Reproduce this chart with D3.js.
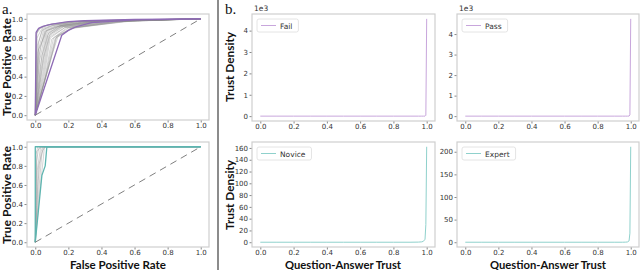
<!DOCTYPE html>
<html>
<head>
<meta charset="utf-8">
<script src="https://cdn.jsdelivr.net/npm/d3@7"></script>
<style>
  body { margin: 0; background: #fff; }
  svg { display: block; }
  .tick text { font-family: "DejaVu Sans", sans-serif; font-size: 7px; fill: #333; }
  .tick line { stroke: #888; }
</style>
</head>
<body>
<svg id="chart" width="640" height="270"></svg>
<script>
// ---- data ----

// ROC curves, pass/fail model: [fpr, tpr] points
const rocPurpleLow = [[0, 0], [0.16, 0.83], [0.2, 0.88], [0.25, 0.92], [0.34, 0.96], [0.6, 0.99], [1, 1]];
const rocPurpleHigh = [[0, 0], [0.005, 0.86], [0.02, 0.9], [0.05, 0.925], [0.1, 0.945], [0.2, 0.97], [0.3, 0.98], [0.6, 0.995], [1, 1]];
const rocFailPassGray = [
    [[0, 0], [0.006, 0.85], [0.03, 0.91], [0.1, 0.945], [0.3, 0.98], [1, 1]],
    [[0, 0], [0.01, 0.8], [0.04, 0.9], [0.12, 0.94], [0.3, 0.98], [1, 1]],
    [[0, 0], [0.012, 0.72], [0.045, 0.89], [0.13, 0.94], [0.35, 0.98], [1, 1]],
    [[0, 0], [0.015, 0.65], [0.05, 0.88], [0.14, 0.935], [0.35, 0.98], [1, 1]],
    [[0, 0], [0.02, 0.6], [0.055, 0.87], [0.15, 0.93], [0.4, 0.98], [1, 1]],
    [[0, 0], [0.025, 0.55], [0.06, 0.86], [0.15, 0.93], [0.4, 0.98], [1, 1]],
    [[0, 0], [0.03, 0.5], [0.065, 0.85], [0.16, 0.925], [0.4, 0.975], [1, 1]],
    [[0, 0], [0.035, 0.47], [0.07, 0.84], [0.16, 0.92], [0.42, 0.975], [1, 1]],
    [[0, 0], [0.04, 0.45], [0.075, 0.83], [0.17, 0.92], [0.45, 0.975], [1, 1]],
    [[0, 0], [0.045, 0.43], [0.08, 0.82], [0.17, 0.915], [0.45, 0.975], [1, 1]],
    [[0, 0], [0.05, 0.42], [0.085, 0.81], [0.18, 0.91], [0.45, 0.97], [1, 1]],
    [[0, 0], [0.055, 0.41], [0.09, 0.8], [0.18, 0.91], [0.5, 0.975], [1, 1]],
    [[0, 0], [0.06, 0.4], [0.1, 0.79], [0.19, 0.905], [0.5, 0.975], [1, 1]],
    [[0, 0], [0.065, 0.42], [0.11, 0.8], [0.2, 0.905], [0.5, 0.975], [1, 1]],
    [[0, 0], [0.07, 0.45], [0.12, 0.8], [0.21, 0.9], [0.5, 0.97], [1, 1]],
    [[0, 0], [0.08, 0.5], [0.125, 0.8], [0.22, 0.9], [0.55, 0.975], [1, 1]],
    [[0, 0], [0.02, 0.75], [0.04, 0.88], [0.1, 0.93], [0.25, 0.97], [1, 1]],
    [[0, 0], [0.03, 0.7], [0.06, 0.87], [0.12, 0.92], [0.3, 0.97], [1, 1]],
    [[0, 0], [0.01, 0.85], [0.03, 0.9], [0.08, 0.94], [0.2, 0.97], [1, 1]],
    [[0, 0], [0.005, 0.83], [0.02, 0.9], [0.07, 0.935], [0.25, 0.975], [1, 1]],
    [[0, 0], [0.04, 0.62], [0.08, 0.85], [0.14, 0.92], [0.35, 0.975], [1, 1]],
    [[0, 0], [0.05, 0.6], [0.09, 0.84], [0.15, 0.915], [0.4, 0.975], [1, 1]],
    [[0, 0], [0.02, 0.68], [0.07, 0.88], [0.18, 0.94], [0.45, 0.98], [1, 1]],
    [[0, 0], [0.09, 0.55], [0.13, 0.82], [0.23, 0.91], [0.55, 0.975], [1, 1]],
    [[0, 0], [0.1, 0.62], [0.14, 0.83], [0.24, 0.91], [0.6, 0.98], [1, 1]]
];

// ROC curves, novice/expert model
const rocTealLow = [[0, 0], [0.04, 0.7], [0.06, 0.8], [0.07, 1], [1, 1]];
const rocTealHigh = [[0, 0], [0, 1], [1, 1]];
const rocExpertGray = [
    [[0, 0], [0.004, 0.92], [0.015, 1], [1, 1]],
    [[0, 0], [0.008, 0.85], [0.02, 0.98], [0.03, 1], [1, 1]],
    [[0, 0], [0.012, 0.75], [0.03, 0.97], [0.035, 1], [1, 1]],
    [[0, 0], [0.018, 0.65], [0.035, 0.95], [0.045, 1], [1, 1]],
    [[0, 0], [0.024, 0.6], [0.04, 0.93], [0.05, 1], [1, 1]],
    [[0, 0], [0.03, 0.58], [0.05, 0.9], [0.055, 1], [1, 1]],
    [[0, 0], [0.01, 0.95], [0.03, 0.99], [0.04, 1], [1, 1]],
    [[0, 0], [0.02, 0.8], [0.045, 0.96], [0.06, 1], [1, 1]]
];

// trust density curves (KDE)
const densityX = [0, 0.1, 0.2, 0.3, 0.4, 0.5, 0.6, 0.7, 0.8, 0.9, 0.95, 0.97, 0.98, 0.99, 0.995, 1.0];
const densityFail = [0, 0, 0, 0, 0, 0, 0, 0, 0, 0, 0, 0, 0, 2, 40, 4550];
const densityPass = [0, 0, 0, 0, 0, 0, 0, 0, 0, 0, 0, 0, 0, 3, 60, 4740];
const densityNovice = [0, 0, 0, 0, 0, 0, 0, 0, 0, 0, 0.2, 0.6, 1.5, 5, 30, 162];
const densityExpert = [0, 0, 0, 0, 0, 0, 0, 0, 0, 0, 0, 0.2, 0.6, 3, 20, 211];

const xTicks = [0, 0.2, 0.4, 0.6, 0.8, 1.0];
const rocYTicks = [0, 0.2, 0.4, 0.6, 0.8, 1.0];
const thousandTicks = [0, 1000, 2000, 3000, 4000];
const noviceTicks = [0, 20, 40, 60, 80, 100, 120, 140, 160];
const expertTicks = [0, 50, 100, 150, 200];

// ---- drawing ----
const svg = d3.select("#chart");
const purple = "#8e6bb5", teal = "#5db5b0";
const purpleLight = "#c8a6dc", tealLight = "#8fd1cc";
const labelFont = "Lato, 'Open Sans', sans-serif";
const tickFont = "'DejaVu Sans', sans-serif";

function makePanel(box, yDomain, yTicks, yFormat) {
    let x = d3.scaleLinear().domain([-0.05, 1.05]).range([box.x0, box.x1]);
    let y = d3.scaleLinear().domain(yDomain).range([box.y1, box.y0]);

    svg.append("g")
        .attr("transform", "translate(0," + box.y1 + ")")
        .call(d3.axisBottom(x).tickValues(xTicks).tickFormat(d3.format(".1f")).tickSize(2.5).tickPadding(1))
        .call(g => g.select(".domain").remove());

    svg.append("g")
        .attr("transform", "translate(" + box.x0 + ",0)")
        .call(d3.axisLeft(y).tickValues(yTicks).tickFormat(yFormat).tickSize(2.5).tickPadding(1.5))
        .call(g => g.select(".domain").remove());

    // clip lines to the frame
    let clipId = "clip" + box.x0 + "_" + box.y0;
    svg.append("clipPath").attr("id", clipId)
        .append("rect")
        .attr("x", box.x0).attr("y", box.y0)
        .attr("width", box.x1 - box.x0).attr("height", box.y1 - box.y0);
    let plot = svg.append("g").attr("clip-path", "url(#" + clipId + ")");

    return {x: x, y: y, plot: plot, box: box};
}

function drawFrame(p) {
    svg.append("rect")
        .attr("x", p.box.x0).attr("y", p.box.y0)
        .attr("width", p.box.x1 - p.box.x0).attr("height", p.box.y1 - p.box.y0)
        .attr("fill", "none")
        .attr("stroke", "#cfcfcf")
        .attr("stroke-width", 1.2);
}

function rocLine(p, pts, color, width, opacity) {
    let line = d3.line().x(d => p.x(d[0])).y(d => p.y(d[1]));
    p.plot.append("path")
        .attr("d", line(pts))
        .attr("fill", "none")
        .attr("stroke", color)
        .attr("stroke-width", width)
        .attr("stroke-opacity", opacity)
        .attr("stroke-linejoin", "round");
}

function diagonal(p) {
    p.plot.append("line")
        .attr("x1", p.x(0)).attr("y1", p.y(0))
        .attr("x2", p.x(1)).attr("y2", p.y(1))
        .attr("stroke", "#808080")
        .attr("stroke-width", 1)
        .attr("stroke-dasharray", "7,5");
}

function densityLine(p, values, color) {
    let line = d3.line().x((d, i) => p.x(densityX[i])).y(d => p.y(d));
    p.plot.append("path")
        .attr("d", line(values))
        .attr("fill", "none")
        .attr("stroke", color)
        .attr("stroke-width", 1);
}

function legend(p, name, color) {
    let lx = p.box.x0 + 5, ly = p.box.y0 + 5;
    let g = svg.append("g");
    let t = g.append("text")
        .attr("x", lx + 23).attr("y", ly + 9.5)
        .style("font-family", tickFont).style("font-size", "7.5px")
        .attr("fill", "#333")
        .text(name);
    let w = t.node().getComputedTextLength();
    g.insert("rect", "text")
        .attr("x", lx).attr("y", ly)
        .attr("width", w + 29).attr("height", 13)
        .attr("rx", 2)
        .attr("fill", "#fff")
        .attr("stroke", "#dddddd")
        .attr("stroke-width", 0.8);
    g.append("line")
        .attr("x1", lx + 4).attr("x2", lx + 19)
        .attr("y1", ly + 6.5).attr("y2", ly + 6.5)
        .attr("stroke", color).attr("stroke-width", 1);
}

function axisLabel(x, y, text, len, rotate) {
    svg.append("text")
        .attr("transform", "translate(" + x + "," + y + ")" + (rotate ? " rotate(-90)" : ""))
        .attr("text-anchor", "middle")
        .attr("textLength", len)
        .attr("lengthAdjust", "spacingAndGlyphs")
        .style("font-family", labelFont)
        .style("font-weight", "bold")
        .style("font-size", "11.5px")
        .attr("fill", "#111")
        .text(text);
}

function offsetText(p) {
    svg.append("text")
        .attr("x", p.box.x0 + 2).attr("y", p.box.y0 - 3)
        .style("font-family", tickFont).style("font-size", "7.5px")
        .attr("fill", "#333")
        .text("1e3");
}

const f1 = d3.format(".1f");

// a. ROC panels
let rocTop = makePanel({x0: 27, x1: 209, y0: 14, y1: 120}, [-0.05, 1.05], rocYTicks, f1);
rocFailPassGray.forEach(c => rocLine(rocTop, c, "#8a8a8a", 0.8, 0.45));
rocLine(rocTop, rocPurpleLow, purple, 1.3, 1);
rocLine(rocTop, rocPurpleHigh, purple, 1.3, 1);
diagonal(rocTop);
drawFrame(rocTop);

let rocBot = makePanel({x0: 27, x1: 209, y0: 142, y1: 247}, [-0.05, 1.05], rocYTicks, f1);
rocExpertGray.forEach(c => rocLine(rocBot, c, "#8a8a8a", 0.8, 0.45));
rocLine(rocBot, rocTealLow, teal, 1.3, 1);
rocLine(rocBot, rocTealHigh, teal, 1.3, 1);
diagonal(rocBot);
drawFrame(rocBot);

// b. density panels
const thousands = d => String(d / 1000);
let mFail = d3.max(densityFail), mPass = d3.max(densityPass);
let mNov = d3.max(densityNovice), mExp = d3.max(densityExpert);

let pFail = makePanel({x0: 252, x1: 435, y0: 14, y1: 121}, [-0.05 * mFail, 1.05 * mFail], thousandTicks, thousands);
densityLine(pFail, densityFail, purpleLight);
drawFrame(pFail);
legend(pFail, "Fail", purpleLight);
offsetText(pFail);

let pPass = makePanel({x0: 457, x1: 639, y0: 14, y1: 121}, [-0.05 * mPass, 1.05 * mPass], thousandTicks, thousands);
densityLine(pPass, densityPass, purpleLight);
drawFrame(pPass);
legend(pPass, "Pass", purpleLight);
offsetText(pPass);

let pNov = makePanel({x0: 252, x1: 435, y0: 142, y1: 247}, [-0.05 * mNov, 1.05 * mNov], noviceTicks, d3.format("d"));
densityLine(pNov, densityNovice, tealLight);
drawFrame(pNov);
legend(pNov, "Novice", tealLight);

let pExp = makePanel({x0: 457, x1: 639, y0: 142, y1: 247}, [-0.05 * mExp, 1.05 * mExp], expertTicks, d3.format("d"));
densityLine(pExp, densityExpert, tealLight);
drawFrame(pExp);
legend(pExp, "Expert", tealLight);

// axis titles
axisLabel(11, 67, "True Positive Rate", 98, true);
axisLabel(11, 195, "True Positive Rate", 98, true);
axisLabel(118, 268.5, "False Positive Rate", 96, false);
axisLabel(234, 67, "Trust Density", 70, true);
axisLabel(234, 195, "Trust Density", 70, true);
axisLabel(343, 268.5, "Question-Answer Trust", 116, false);
axisLabel(548, 268.5, "Question-Answer Trust", 116, false);

// panel letters
svg.append("text").attr("x", 2).attr("y", 14)
    .style("font-family", "'Liberation Serif', serif").style("font-size", "15px")
    .attr("fill", "#111").text("a.");
svg.append("text").attr("x", 225).attr("y", 14)
    .style("font-family", "'Liberation Serif', serif").style("font-size", "15px")
    .attr("fill", "#111").text("b.");

// divider between a and b
svg.append("line")
    .attr("x1", 218).attr("x2", 218)
    .attr("y1", 0).attr("y2", 270)
    .attr("stroke", "#666")
    .attr("stroke-width", 1.5);
</script>
</body>
</html>
